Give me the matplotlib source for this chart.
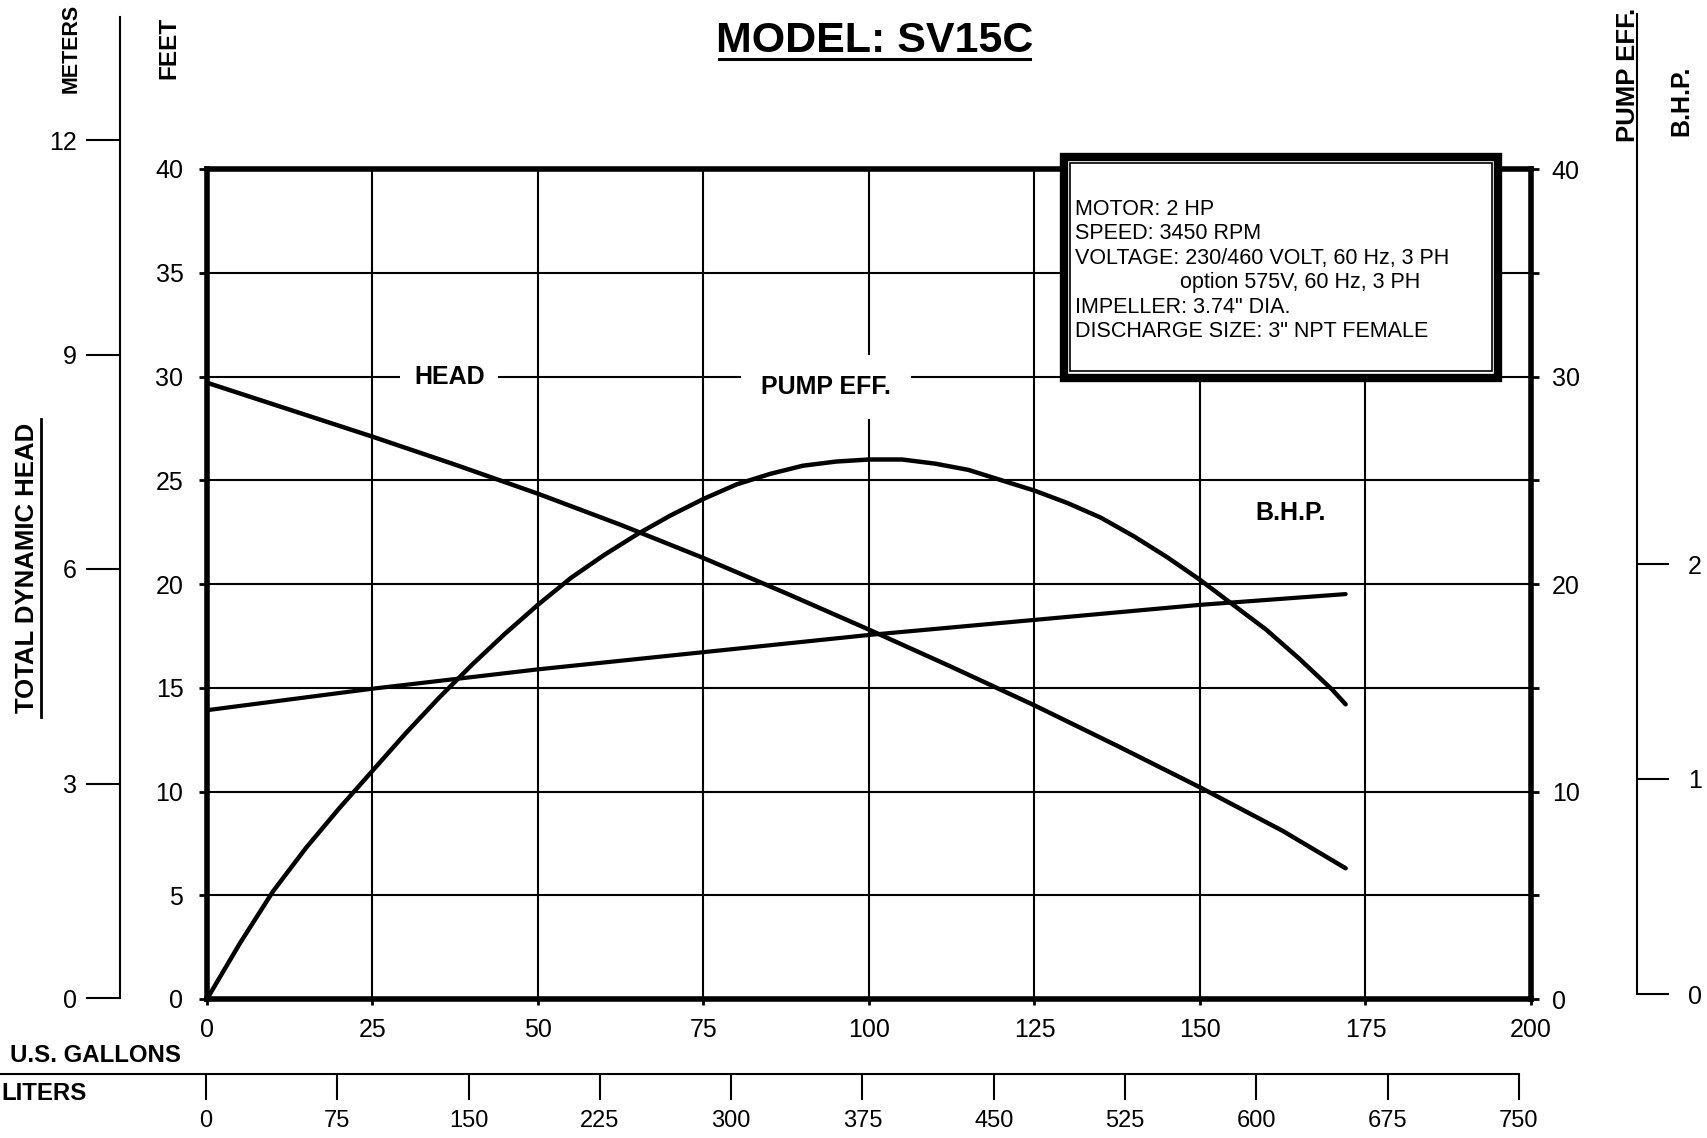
import matplotlib
matplotlib.use('Agg')
from matplotlib import pyplot as plt
from matplotlib.patches import Rectangle
from matplotlib.lines import Line2D
import numpy as np

plt.rcParams['font.family'] = ['Liberation Sans', 'DejaVu Sans']

# values
gpm_head = [0, 12.5, 25, 37.5, 50, 62.5, 75, 87.5, 100, 112.5, 125, 137.5, 150, 162.5, 172]
head_ft = [29.7, 28.4, 27.1, 25.75, 24.35, 22.85, 21.25, 19.55, 17.8, 16.0, 14.15, 12.2, 10.2, 8.1, 6.3]

gpm_eff = [0, 5, 10, 15, 20, 25, 30, 35, 40, 45, 50, 55, 60, 65, 70, 75, 80, 85, 90, 95,
           100, 105, 110, 115, 120, 125, 130, 135, 140, 145, 150, 155, 160, 165, 170, 172]
eff_pct = [0, 2.7, 5.2, 7.3, 9.2, 11.0, 12.8, 14.5, 16.1, 17.6, 19.0, 20.3, 21.4, 22.4, 23.3,
           24.1, 24.8, 25.3, 25.7, 25.9, 26.0, 26.0, 25.8, 25.5, 25.0, 24.5, 23.9, 23.2, 22.3,
           21.3, 20.2, 19.0, 17.8, 16.4, 14.9, 14.2]

gpm_bhp = [0, 25, 50, 75, 100, 125, 150, 172]
bhp = [1.32, 1.42, 1.51, 1.59, 1.67, 1.74, 1.81, 1.86]

gal_ticks = np.arange(0, 201, 25)
feet_ticks = np.arange(0, 41, 5)
eff_ticks = [0, 10, 20, 30, 40]
eff_minor = [5, 15, 25, 35]
meter_ticks = [0, 3, 6, 9, 12]
bhp_ticks = [0, 1, 2]
liter_ticks = np.arange(0, 751, 75)

info_lines = ['MOTOR: 2 HP', 'SPEED: 3450 RPM', 'VOLTAGE: 230/460 VOLT, 60 Hz, 3 PH',
              'option 575V, 60 Hz, 3 PH', 'IMPELLER: 3.74" DIA.', 'DISCHARGE SIZE: 3" NPT FEMALE']

W, H = 1708, 1138
fig = plt.figure(figsize=(W / 100, H / 100), dpi=100)


def fx(x):
    return x / W


def fy(y):
    return 1 - y / H


def px_axes(x0, y0, x1, y1):
    return fig.add_axes([fx(x0), fy(y1), (x1 - x0) / W, (y1 - y0) / H])


# main chart: gallons vs feet
ax = px_axes(207, 169, 1531, 999)
ax.set_xlim(0, 200)
ax.set_ylim(0, 40)
ax.set_xticks(gal_ticks)
ax.set_yticks(feet_ticks)
ax.grid(True, color='black', lw=1.5)
for s in ax.spines.values():
    s.set_linewidth(4)
ax.tick_params(axis='both', direction='out', width=2, labelsize=18)
ax.tick_params(axis='x', length=4, pad=10)
ax.tick_params(axis='y', length=6, pad=11)
ax.plot(gpm_head, head_ft, color='black', lw=3.2, solid_capstyle='round',
        solid_joinstyle='round', zorder=3)
ax.text(36.6, 30, 'HEAD', ha='center', va='center', fontsize=18, weight='bold',
        bbox=dict(boxstyle='square,pad=0.55', fc='white', ec='none'), zorder=4)
ax.text(93.5, 29.5, 'PUMP EFF.', ha='center', va='center', fontsize=18, weight='bold',
        bbox=dict(boxstyle='square,pad=0.8', fc='white', ec='none'), zorder=4)
ax.text(163.7, 23.4, 'B.H.P.', ha='center', va='center', fontsize=18, weight='bold', zorder=4)

# efficiency on the right, same 0-40 scale
ax_eff = ax.twinx()
ax_eff.set_ylim(0, 40)
ax_eff.set_yticks(eff_ticks)
ax_eff.set_yticks(eff_minor, minor=True)
for s in ax_eff.spines.values():
    s.set_visible(False)
ax_eff.tick_params(axis='y', which='both', direction='out', length=6, width=2, labelsize=18, pad=9)
ax_eff.plot(gpm_eff, eff_pct, color='black', lw=3.2, solid_capstyle='round',
            solid_joinstyle='round', zorder=3)

# bhp scale: 0 at y=994 px, 215 px per hp
bhp_px = 215.0
ax_b = ax.twinx()
ax_b.set_ylim((994 - 999) / bhp_px, (994 - 169) / bhp_px)
ax_b.axis('off')
ax_b.plot(gpm_bhp, bhp, color='black', lw=3.0, solid_capstyle='round')

# meters axis on the far left
m_px = (998 - 140) / 12.0
ax_m = px_axes(120, 17, 121, 998)
ax_m.set_ylim(0, (998 - 17) / m_px)
ax_m.set_yticks(meter_ticks)
ax_m.set_xticks([])
ax_m.patch.set_visible(False)
for k in ['top', 'bottom', 'right']:
    ax_m.spines[k].set_visible(False)
ax_m.spines['left'].set_linewidth(1.5)
ax_m.yaxis.tick_left()
ax_m.tick_params(axis='y', direction='out', length=24.5, width=1.5, pad=6.5, labelsize=18)

# bhp axis on the far right
ax_h = px_axes(1637, 14, 1638, 994)
ax_h.set_ylim(0, (994 - 14) / bhp_px)
ax_h.set_yticks(bhp_ticks)
ax_h.set_xticks([])
ax_h.patch.set_visible(False)
for k in ['top', 'bottom', 'right']:
    ax_h.spines[k].set_visible(False)
ax_h.spines['left'].set_linewidth(1.5)
ax_h.yaxis.set_ticks_position('right')
ax_h.tick_params(axis='y', direction='out', length=22, width=1.5, pad=14, labelsize=18)

# liters scale under the gallons
l_px = (1519 - 206) / 750.0
ax_l = px_axes(0, 1073, 1519, 1074)
ax_l.set_xlim(-206 / l_px, 750)
ax_l.set_xticks(liter_ticks)
ax_l.set_yticks([])
ax_l.patch.set_visible(False)
for k in ['top', 'left', 'right']:
    ax_l.spines[k].set_visible(False)
ax_l.spines['bottom'].set_linewidth(1.5)
ax_l.tick_params(axis='x', direction='out', length=18.7, width=1.5, pad=7, labelsize=17)

# texts around the chart
fig.text(fx(875), fy(52), 'MODEL: SV15C', ha='center', va='baseline', fontsize=31, weight='bold')
fig.add_artist(Line2D([fx(719), fx(1030)], [fy(59), fy(59)], color='black', lw=2.2))
fig.text(fx(27), fy(568), 'TOTAL DYNAMIC HEAD', rotation=90, ha='center', va='center',
         fontsize=18.5, weight='bold')
fig.add_artist(Line2D([fx(41), fx(41)], [fy(419), fy(717)], color='black', lw=2))
fig.text(fx(169), fy(48), 'FEET', rotation=90, ha='center', va='center', fontsize=17.5, weight='bold')
fig.text(fx(71), fy(93), 'METERS', rotation=90, ha='center', va='bottom', fontsize=15.5, weight='bold')
fig.text(fx(1628), fy(142), 'PUMP EFF.', rotation=90, ha='center', va='bottom', fontsize=18.5, weight='bold')
fig.text(fx(1681), fy(136), 'B.H.P.', rotation=90, ha='center', va='bottom', fontsize=18, weight='bold')
fig.text(fx(181), fy(1055), 'U.S. GALLONS', ha='right', va='center', fontsize=17.3, weight='bold')
fig.text(fx(87), fy(1093), 'LITERS', ha='right', va='center', fontsize=17.3, weight='bold')

# motor info box
fig.add_artist(Rectangle((fx(1064), fy(378)), (1498 - 1064) / W, (378 - 157) / H,
                         transform=fig.transFigure, fc='white', ec='black', lw=6, zorder=5))
fig.add_artist(Rectangle((fx(1070), fy(371)), (1492 - 1070) / W, (371 - 163) / H,
                         transform=fig.transFigure, fc='none', ec='black', lw=1.2, zorder=6))
for i, line in enumerate(info_lines):
    x0 = 1180 if line.startswith('option') else 1075
    fig.text(fx(x0), fy(215 + 24.4 * i), line, ha='left', va='baseline', fontsize=15.5, zorder=7)

fig.savefig('out.png', dpi=100)
